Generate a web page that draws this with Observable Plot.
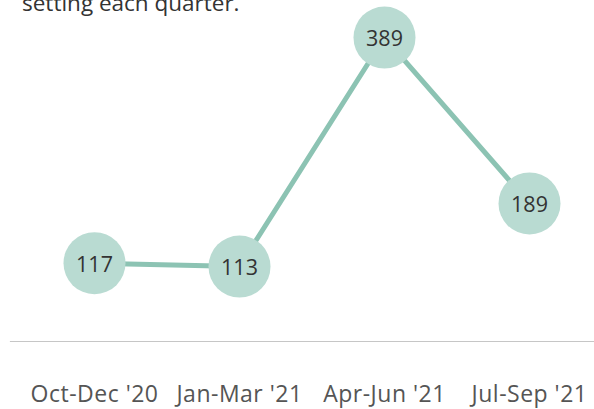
<!DOCTYPE html>
<html><head><meta charset="utf-8">
<script src="https://cdn.jsdelivr.net/npm/d3@7"></script>
<script src="https://cdn.jsdelivr.net/npm/@observablehq/plot@0.6"></script>
<style>
body{margin:0;background:#fff;font-family:"Open Sans",sans-serif;overflow:hidden;}
#wrap{position:relative;width:594px;height:409px;}
#sub{position:absolute;left:22px;top:-12px;font-size:22.5px;color:#333;white-space:nowrap;line-height:30px;}
g[aria-label="x-axis tick label"] text{letter-spacing:0.5px;}
</style></head>
<body><div id="wrap"><div id="sub">setting each quarter.</div><div id="chart"></div></div>
<script>
const quarters = ["Oct-Dec '20", "Jan-Mar '21", "Apr-Jun '21", "Jul-Sep '21"];
const values = [117, 113, 389, 189];
const data = quarters.map((q, i) => ({q, v: values[i]}));

const chart = Plot.plot({
  width: 594,
  height: 409,
  marginLeft: 10,
  marginRight: 0,
  marginTop: 0,
  marginBottom: 68,
  style: {fontFamily: "Open Sans, sans-serif", background: "#fff"},
  x: {type: "point", domain: quarters, range: [93, 530], padding: 0},
  y: {domain: [0, 400], range: [359.8, 27.9], axis: null},
  marks: [
    Plot.frame({anchor: "bottom", stroke: "#c6c6c6", strokeWidth: 1.2}),
    Plot.axisX({tickSize: 0, tickPadding: 44, fontSize: 23, fill: "#555", label: null}),
    Plot.line(data, {x: "q", y: "v", stroke: "#8cc3b3", strokeWidth: 5}),
    Plot.dot(data, {x: "q", y: "v", r: 31, fill: "#b9dbd2", stroke: "none"}),
    Plot.text(data, {x: "q", y: "v", text: d => String(d.v), fontSize: 21.5, fill: "#333", dy: 2})
  ]
});
document.getElementById("chart").appendChild(chart);
</script></body></html>
